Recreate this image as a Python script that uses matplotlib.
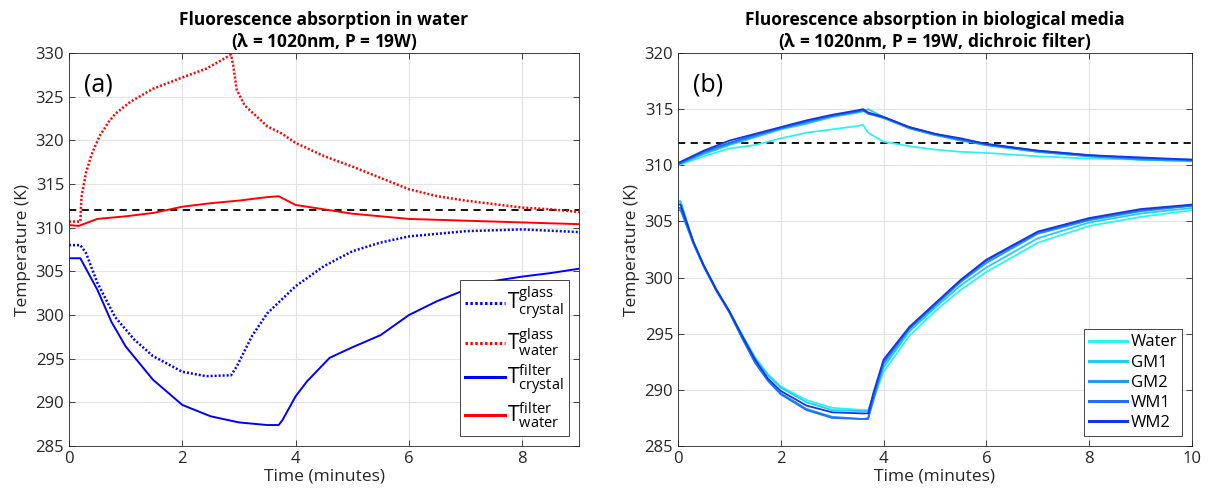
import matplotlib
matplotlib.use("Agg")
import matplotlib.pyplot as plt

plt.rcParams['font.family'] = ['Open Sans', 'DejaVu Sans']
plt.rcParams['mathtext.default'] = 'regular'

# ---------------- Panel (a) data ----------------
t_glass_water = [0, 0.2, 0.22, 0.3, 0.4, 0.54, 0.7, 0.81, 1.08, 1.48, 2.0, 2.42, 2.86, 2.9, 2.96, 3.1, 3.3, 3.5, 3.75, 4.0, 4.5, 5.0, 5.5, 6.0, 6.5, 7.0, 7.5, 8.0, 8.5, 9.0]
T_glass_water = [310.7, 310.7, 313.5, 316.3, 318.4, 320.5, 322.1, 323.0, 324.4, 325.9, 327.2, 328.2, 329.8, 328.5, 325.8, 324.0, 322.8, 321.6, 320.8, 319.7, 318.2, 317.0, 315.7, 314.4, 313.6, 313.1, 312.7, 312.3, 312.1, 311.8]

t_filter_water = [0, 0.17, 0.5, 1.0, 1.5, 2.0, 2.5, 3.0, 3.5, 3.7, 4.0, 4.5, 5.0, 5.5, 6.0, 7.0, 8.0, 9.0]
T_filter_water = [310.3, 310.2, 311.0, 311.3, 311.7, 312.4, 312.8, 313.1, 313.5, 313.6, 312.6, 312.1, 311.6, 311.3, 311.0, 310.8, 310.6, 310.4]

t_glass_crystal = [0, 0.2, 0.3, 0.5, 0.81, 1.15, 1.48, 2.0, 2.42, 2.86, 2.96, 3.23, 3.5, 4.0, 4.5, 5.0, 5.5, 6.0, 7.0, 8.0, 9.0]
T_glass_crystal = [308.0, 308.0, 307.1, 303.7, 299.8, 297.2, 295.3, 293.5, 293.0, 293.1, 294.1, 297.6, 300.2, 303.3, 305.6, 307.3, 308.3, 309.0, 309.6, 309.8, 309.5]

t_filter_crystal = [0, 0.2, 0.5, 0.75, 1.0, 1.48, 2.0, 2.5, 3.0, 3.5, 3.7, 3.77, 4.0, 4.2, 4.6, 5.0, 5.5, 6.0, 6.5, 7.0, 7.5, 8.0, 8.5, 9.0]
T_filter_crystal = [306.5, 306.5, 302.9, 299.2, 296.4, 292.6, 289.7, 288.4, 287.7, 287.4, 287.4, 288.0, 290.7, 292.4, 295.1, 296.3, 297.7, 300.0, 301.6, 302.9, 303.9, 304.4, 304.8, 305.3]

legend_a = [r'$T^{glass}_{crystal}$', r'$T^{glass}_{water}$', r'$T^{filter}_{crystal}$', r'$T^{filter}_{water}$']

# ---------------- Panel (b) data ----------------
media = ['Water', 'GM1', 'GM2', 'WM1', 'WM2']
media_colors = ['#2ef2f2', '#22cdf2', '#1e9cee', '#246ff0', '#1236e6']

t_upper = [0, 0.5, 1, 1.5, 2, 2.5, 3, 3.5, 3.6, 3.7, 4, 4.5, 5, 5.5, 6, 7, 8, 9, 10]
T_upper_water = [310.0, 310.8, 311.5, 311.8, 312.4, 312.9, 313.2, 313.5, 313.6, 312.9, 312.1, 311.7, 311.4, 311.2, 311.1, 310.8, 310.6, 310.5, 310.35]
T_upper_gm1 = [310.0, 311.0, 311.8, 312.5, 313.2, 313.7, 314.3, 314.7, 314.8, 315.0, 314.3, 313.3, 312.7, 312.3, 311.8, 311.2, 310.8, 310.6, 310.4]
T_upper_gm2 = [310.1, 311.1, 311.9, 312.6, 313.3, 313.8, 314.4, 314.8, 314.9, 314.6, 314.2, 313.3, 312.7, 312.2, 311.8, 311.2, 310.8, 310.5, 310.4]
T_upper_wm1 = [310.1, 311.2, 312.0, 312.7, 313.3, 313.9, 314.4, 314.8, 314.9, 314.6, 314.3, 313.4, 312.8, 312.3, 311.9, 311.3, 310.9, 310.6, 310.5]
T_upper_wm2 = [310.2, 311.3, 312.2, 312.8, 313.4, 314.0, 314.5, 314.9, 315.0, 314.7, 314.3, 313.4, 312.8, 312.4, 311.9, 311.3, 310.9, 310.7, 310.5]

t_lower = [0, 0.05, 0.3, 0.5, 0.75, 1, 1.25, 1.5, 1.75, 2, 2.5, 3, 3.6, 3.7, 3.8, 4, 4.5, 5, 5.5, 6, 7, 8, 9, 10]
T_lower_water = [306.7, 306.7, 303.1, 301.1, 298.9, 297.0, 294.9, 292.9, 291.4, 290.3, 289.1, 288.4, 288.2, 288.2, 289.2, 291.6, 294.8, 297.0, 298.9, 300.5, 303.1, 304.6, 305.4, 306.0]
T_lower_gm1 = [306.8, 306.8, 303.1, 301.1, 298.9, 297.0, 294.8, 292.8, 291.3, 290.2, 288.9, 288.2, 288.1, 288.1, 289.5, 292.0, 295.2, 297.3, 299.3, 300.9, 303.5, 304.9, 305.7, 306.2]
T_lower_gm2 = [306.0, 306.0, 303.0, 301.0, 298.8, 296.9, 294.6, 292.5, 290.9, 289.7, 288.3, 287.6, 287.4, 287.5, 289.0, 292.3, 295.4, 297.5, 299.6, 301.3, 303.9, 305.1, 305.9, 306.4]
T_lower_wm1 = [306.2, 306.2, 303.1, 301.0, 298.8, 296.9, 294.6, 292.4, 290.8, 289.6, 288.2, 287.5, 287.4, 287.4, 289.4, 292.5, 295.5, 297.6, 299.7, 301.5, 304.0, 305.2, 306.0, 306.4]
T_lower_wm2 = [306.5, 306.5, 303.2, 301.1, 298.9, 297.0, 294.8, 292.7, 291.0, 289.9, 288.6, 288.0, 287.9, 287.9, 289.7, 292.7, 295.6, 297.7, 299.8, 301.6, 304.1, 305.3, 306.1, 306.5]

T_ref = 312.0

# ---------------- Figure ----------------
fig = plt.figure(figsize=(12.1, 4.97), dpi=100)
axa = fig.add_axes([69/1210, 1 - 446/497, 510/1210, 393/497])
axb = fig.add_axes([678/1210, 1 - 446/497, 514/1210, 393/497])

def style(ax, xmax, ymin, ymax, xticks, yticks):
    ax.set_xlim(0, xmax)
    ax.set_ylim(ymin, ymax)
    ax.set_xticks(xticks)
    ax.set_yticks(yticks)
    ax.grid(True, color='#e3e3e3', linewidth=0.8)
    ax.set_axisbelow(True)
    ax.tick_params(direction='in', top=True, right=True, length=4, labelsize=12,
                   colors='#262626', width=0.6)
    for s in ax.spines.values():
        s.set_color('#262626')
        s.set_linewidth(0.6)
    ax.set_xlabel('Time (minutes)', fontsize=12.5, color='#262626', labelpad=1)
    ax.set_ylabel('Temperature (K)', fontsize=12.5, color='#262626', labelpad=3)

dot = (0, (0.8, 0.8))

# Panel (a)
style(axa, 9, 285, 330, [0, 2, 4, 6, 8], range(285, 331, 5))
axa.plot([0, 9], [T_ref, T_ref], '--', color='black', lw=1.3, dashes=(4, 3))
l1, = axa.plot(t_glass_crystal, T_glass_crystal, linestyle=dot, color='blue', lw=1.8)
l2, = axa.plot(t_glass_water, T_glass_water, linestyle=dot, color='red', lw=1.8)
l3, = axa.plot(t_filter_crystal, T_filter_crystal, '-', color='blue', lw=1.4)
l4, = axa.plot(t_filter_water, T_filter_water, '-', color='red', lw=1.4)
leg = axa.legend([l1, l2, l3, l4], legend_a, loc='lower right', fontsize=15,
                 handlelength=1.9, handletextpad=0.1, labelspacing=0.2,
                 borderpad=0.25, fancybox=False, edgecolor='#262626',
                 framealpha=1, borderaxespad=0.5)
leg.get_frame().set_linewidth(0.6)
for lh in leg.get_lines():
    lh.set_linewidth(2.2)
axa.set_title('Fluorescence absorption in water\n($\\lambda$ = 1020nm, P = 19W)',
              fontsize=12.5, fontweight='bold', pad=4, linespacing=1.15)
axa.text(0.03, 0.95, '(a)', transform=axa.transAxes, fontsize=18, va='top', ha='left')

# Panel (b)
style(axb, 10, 285, 320, [0, 2, 4, 6, 8, 10], range(285, 321, 5))
axb.plot([0, 10], [T_ref, T_ref], '--', color='black', lw=1.3, dashes=(4, 3))
uppers = [T_upper_water, T_upper_gm1, T_upper_gm2, T_upper_wm1, T_upper_wm2]
lowers = [T_lower_water, T_lower_gm1, T_lower_gm2, T_lower_wm1, T_lower_wm2]
handles = []
for name, c, up, lo in zip(media, media_colors, uppers, lowers):
    h, = axb.plot(t_upper, up, '-', color=c, lw=1.3, label=name)
    axb.plot(t_lower, lo, '-', color=c, lw=1.3)
    handles.append(h)
leg2 = axb.legend(handles, media, loc='lower right', fontsize=12,
                  handlelength=2.3, handletextpad=0.2, labelspacing=0.25,
                  borderpad=0.3, fancybox=False, edgecolor='#262626',
                  framealpha=1, borderaxespad=0.6)
leg2.get_frame().set_linewidth(0.6)
for lh in leg2.get_lines():
    lh.set_linewidth(2.2)
axb.set_title('Fluorescence absorption in biological media\n($\\lambda$ = 1020nm, P = 19W, dichroic filter)',
              fontsize=12.5, fontweight='bold', pad=4, linespacing=1.15)
axb.text(0.03, 0.95, '(b)', transform=axb.transAxes, fontsize=18, va='top', ha='left')

fig.savefig('out.png', dpi=100)
